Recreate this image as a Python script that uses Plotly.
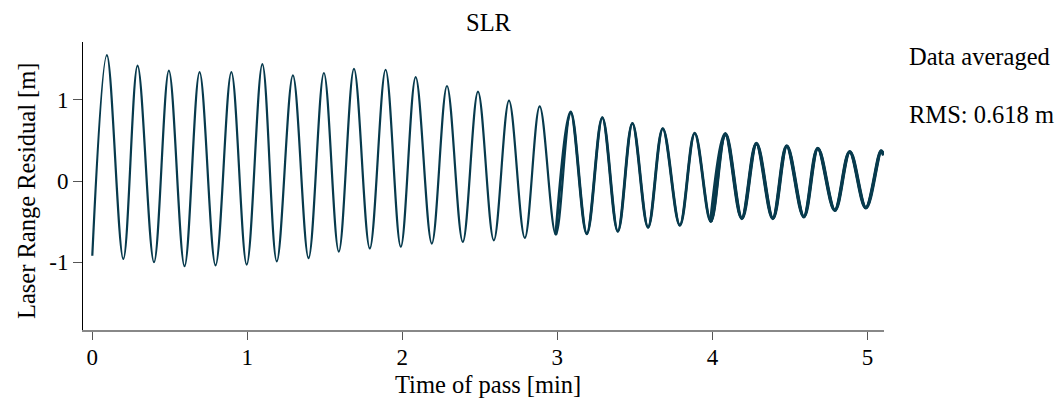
import plotly.graph_objects as go

# Extrema of the residual signal (time in min, residual in m)
time_min = [0.0, 0.094, 0.200, 0.292, 0.398, 0.494, 0.595, 0.692, 0.795, 0.897,
            0.996, 1.097, 1.190, 1.294, 1.395, 1.494, 1.590, 1.688, 1.790, 1.892,
            1.990, 2.086, 2.190, 2.288, 2.390, 2.488, 2.590, 2.688, 2.790, 2.886,
            2.990, 3.086, 3.190, 3.290, 3.390, 3.484, 3.585, 3.680, 3.790, 3.886,
            3.990, 4.084, 4.190, 4.284, 4.390, 4.480, 4.590, 4.680, 4.790, 4.886,
            4.990, 5.088, 5.105]
residual_m = [-0.92, 1.55, -0.96, 1.42, -1.00, 1.36, -1.05, 1.34, -1.04, 1.34,
              -1.03, 1.44, -0.99, 1.30, -0.95, 1.33, -0.87, 1.38, -0.83, 1.37,
              -0.81, 1.28, -0.77, 1.17, -0.75, 1.10, -0.73, 0.99, -0.70, 0.92,
              -0.66, 0.85, -0.65, 0.78, -0.62, 0.71, -0.57, 0.645, -0.545, 0.59,
              -0.50, 0.58, -0.46, 0.46, -0.46, 0.43, -0.44, 0.40, -0.36, 0.36,
              -0.33, 0.37, 0.32]
# indices from which the measurements become noisier (wider band)
noisier_from = 30
noisiest_from = 40

x_ticks = [0, 1, 2, 3, 4, 5]
y_ticks = [-1, 0, 1]

FONT = "Liberation Serif"
COLOR = "#073a4d"
FS = 24.5
TICK_FS = 23

fig = go.Figure()
for start, width in [(0, 2.2), (noisier_from, 2.9), (noisiest_from, 3.6)]:
    fig.add_trace(go.Scatter(
        x=time_min[start:], y=residual_m[start:], mode="lines",
        line=dict(color=COLOR, width=width, shape="spline", smoothing=1.0),
        showlegend=False, hoverinfo="skip"))

W, H = 1056, 398
L, R, T, B = 83, 884, 42, 330

fig.update_layout(
    width=W, height=H,
    margin=dict(l=L, r=W - R, t=T, b=H - B),
    paper_bgcolor="white", plot_bgcolor="white",
    font=dict(family=FONT, size=FS, color="black"),
    showlegend=False,
)
fig.update_xaxes(
    range=[-0.06, 5.107], tickvals=x_ticks, ticktext=[str(v) for v in x_ticks],
    showgrid=False, zeroline=False, showline=True, linecolor="#888888", linewidth=1.5,
    ticks="outside", ticklen=8, tickcolor="#555555", tickwidth=1.2,
    ticklabelstandoff=-2,
    tickfont=dict(family=FONT, size=TICK_FS, color="black"),
)
fig.update_yaxes(
    range=[-1.835, 1.712], tickvals=y_ticks, ticktext=[str(v) for v in y_ticks],
    showgrid=False, zeroline=False, showline=True, linecolor="black", linewidth=1,
    ticks="outside", ticklen=9, tickcolor="#555555", tickwidth=1.2,
    tickfont=dict(family=FONT, size=TICK_FS, color="black"),
)

def ann_px(text, x, y, size=FS, angle=0, xanchor="center"):
    fig.add_annotation(text=text,
                       x=(x - L) / (R - L), y=(B - y) / (B - T),
                       xref="paper", yref="paper", showarrow=False,
                       textangle=angle, xanchor=xanchor, yanchor="middle",
                       font=dict(family=FONT, size=size, color="black"))

ann_px("SLR", 489, 22)
ann_px("Time of pass [min]", 488, 384)
ann_px("Laser Range Residual [m]", 26, 191, angle=-90)
ann_px("Data averaged", 907, 56, xanchor="left")
ann_px("RMS: 0.618 m", 907, 114, xanchor="left")

fig.write_html("out.html")
